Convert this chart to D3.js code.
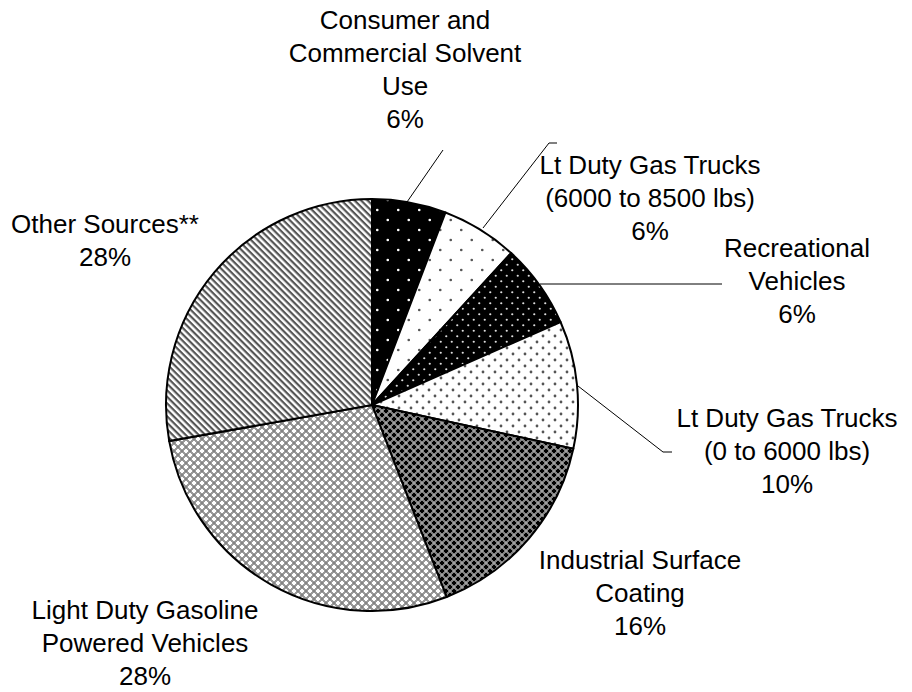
<!DOCTYPE html>
<html>
<head>
<meta charset="utf-8">
<script src="https://cdn.jsdelivr.net/npm/d3@7"></script>
<style>
body { margin:0; background:#fff; }
text { font-family: "Liberation Sans", Arial, sans-serif; font-size:26px; fill:#000; }
</style>
</head>
<body>
<svg id="pie"></svg>
<script>
var screen = {width:912, height:692};
var center = {x:372, y:405};
var radius = 206;

// slices, clockwise from 12 o'clock
var categories = ["Consumer and Commercial Solvent Use",
                  "Lt Duty Gas Trucks (6000 to 8500 lbs)",
                  "Recreational Vehicles",
                  "Lt Duty Gas Trucks (0 to 6000 lbs)",
                  "Industrial Surface Coating",
                  "Light Duty Gasoline Powered Vehicles",
                  "Other Sources**"];
var shares = [5.8, 6.0, 6.6, 10.0, 15.7, 28.1, 27.8];
var pctLabels = ["6%", "6%", "6%", "10%", "16%", "28%", "28%"];
var labelLines = [
    ["Consumer and", "Commercial Solvent", "Use"],
    ["Lt Duty Gas Trucks", "(6000 to 8500 lbs)"],
    ["Recreational", "Vehicles"],
    ["Lt Duty Gas Trucks", "(0 to 6000 lbs)"],
    ["Industrial Surface", "Coating"],
    ["Light Duty Gasoline", "Powered Vehicles"],
    ["Other Sources**"]
];

// where each label block sits (center x, first baseline) and its leader line
var labelPos = [
    {x:405, y:29,  leader:[[443,150],[407,202]]},
    {x:650, y:174, leader:[[557,143],[549,143],[483,228]]},
    {x:797, y:257, leader:[[540,284],[722,284]]},
    {x:787, y:427, leader:[[578,386],[663,452],[672,452]]},
    {x:640, y:569, leader:null},
    {x:145, y:619, leader:null},
    {x:105, y:233, leader:null}
];
var lineHeight = 33;

var svg = d3.select("#pie")
    .attr("width", screen.width)
    .attr("height", screen.height);

var defs = svg.append("defs");

//dotted pattern, dots on a staggered grid
var dotPattern = function(id, w, h, bg, fg, r)
{
    var p = defs.append("pattern")
        .attr("id", id)
        .attr("patternUnits", "userSpaceOnUse")
        .attr("width", w)
        .attr("height", h);
    p.append("rect").attr("width", w).attr("height", h).attr("fill", bg);
    [[w/4, h/4], [3*w/4, 3*h/4]].forEach(function(c)
    {
        p.append("circle").attr("cx", c[0]).attr("cy", c[1]).attr("r", r).attr("fill", fg);
    });
}

//plus shaped crosses on a staggered grid
var crossPattern = function(id, bg, fg, dot)
{
    var p = defs.append("pattern")
        .attr("id", id)
        .attr("patternUnits", "userSpaceOnUse")
        .attr("width", 8)
        .attr("height", 8);
    p.append("rect").attr("width", 8).attr("height", 8).attr("fill", bg);
    [[2,2],[6,6]].forEach(function(c)
    {
        p.append("rect").attr("x", c[0]-1).attr("y", c[1]-2).attr("width", 2).attr("height", 4).attr("fill", fg);
        p.append("rect").attr("x", c[0]-2).attr("y", c[1]-1).attr("width", 4).attr("height", 2).attr("fill", fg);
    });
    [[6,2],[2,6]].forEach(function(c)
    {
        p.append("rect").attr("x", c[0]-0.5).attr("y", c[1]-0.5).attr("width", 1).attr("height", 1).attr("fill", dot);
    });
}

dotPattern("p0", 21, 20, "#000", "#fff", 1.3);
dotPattern("p1", 21, 20, "#fff", "#555", 1.3);
dotPattern("p2", 11, 11, "#000", "#ddd", 1.1);
dotPattern("p3", 12, 12, "#fff", "#555", 1.4);
crossPattern("p4", "#808080", "#000", "#fff");
crossPattern("p5", "#9a9a9a", "#fff", "#444");

var stripes = defs.append("pattern")
    .attr("id", "p6")
    .attr("patternUnits", "userSpaceOnUse")
    .attr("width", 8)
    .attr("height", 4.6)
    .attr("patternTransform", "rotate(45)");
stripes.append("rect").attr("width", 8).attr("height", 4.6).attr("fill", "#fff");
stripes.append("rect").attr("width", 8).attr("height", 2.2).attr("fill", "#555");

var pie = d3.pie()
    .sort(null)
    .value(function(d){ return d; });

var arc = d3.arc()
    .innerRadius(0)
    .outerRadius(radius);

var g = svg.append("g")
    .attr("transform", "translate(" + center.x + "," + center.y + ")");

g.selectAll("path")
    .data(pie(shares))
    .enter()
    .append("path")
    .attr("d", arc)
    .attr("fill", function(d, i){ return "url(#p" + i + ")"; })
    .attr("stroke", "#000")
    .attr("stroke-width", 2)
    .attr("stroke-linejoin", "round");

//leader lines
var line = d3.line();
svg.append("g")
    .selectAll("path")
    .data(labelPos.filter(function(p){ return p.leader; }))
    .enter()
    .append("path")
    .attr("d", function(p){ return line(p.leader); })
    .attr("fill", "none")
    .attr("stroke", "#000")
    .attr("stroke-width", 1);

//labels
var labels = svg.append("g")
    .selectAll("text")
    .data(categories)
    .enter()
    .append("text")
    .attr("text-anchor", "middle")
    .attr("x", function(d, i){ return labelPos[i].x; })
    .attr("y", function(d, i){ return labelPos[i].y; });

labels.each(function(d, i)
{
    var t = d3.select(this);
    labelLines[i].concat([pctLabels[i]]).forEach(function(s, k)
    {
        t.append("tspan")
            .attr("x", labelPos[i].x)
            .attr("dy", k == 0 ? 0 : lineHeight)
            .text(s);
    });
});
</script>
</body>
</html>
